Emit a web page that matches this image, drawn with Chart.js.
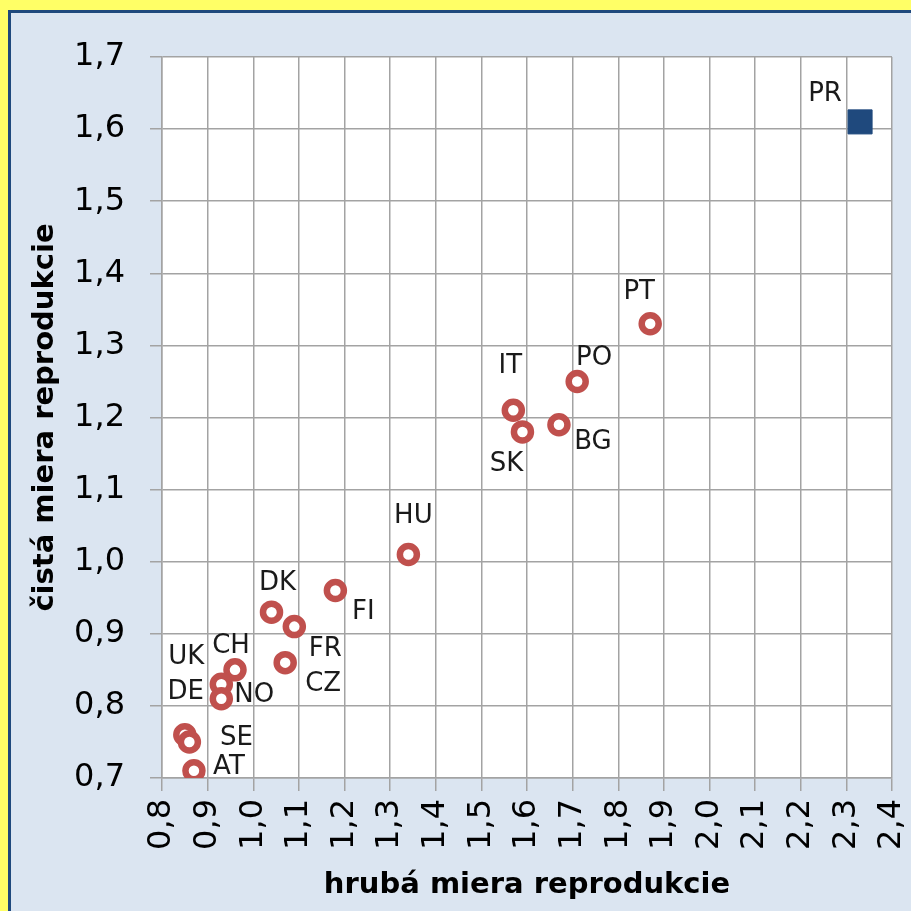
<!DOCTYPE html>
<html>
<head>
<meta charset="utf-8">
<script src="https://cdn.jsdelivr.net/npm/chart.js@4/dist/chart.umd.min.js"></script>
<style>
  html, body { margin: 0; padding: 0; background: #ffff66; width: 911px; height: 911px; overflow: hidden; }
  #frame {
    position: absolute; left: 8px; top: 10px; width: 903px; height: 901px;
    box-sizing: border-box; border-left: 3px solid #1f497d; border-top: 3px solid #1f497d;
    background: #dbe5f1;
  }
  #wrap { position: absolute; left: 0; top: 0; width: 900px; height: 898px; }
</style>
</head>
<body>
<div id="frame"><div id="wrap"><canvas id="c"></canvas></div></div>
<script>
// countries (circles) and the highlighted one (square)
var countryCodes = ['PT', 'PO', 'IT', 'SK', 'BG', 'HU', 'FI', 'DK', 'FR', 'CZ', 'CH', 'UK', 'NO', 'DE', 'SE', 'AT'];
var grossRates   = [1.87, 1.71, 1.57, 1.59, 1.67, 1.34, 1.18, 1.04, 1.09, 1.07, 0.96, 0.93, 0.93, 0.85, 0.86, 0.87];
var netRates     = [1.33, 1.25, 1.21, 1.18, 1.19, 1.01, 0.96, 0.93, 0.91, 0.86, 0.85, 0.83, 0.81, 0.76, 0.75, 0.71];

var highlightCode = ['PR'];
var highlightGross = [2.33];
var highlightNet = [1.61];

var xTickValues = [0.8, 0.9, 1.0, 1.1, 1.2, 1.3, 1.4, 1.5, 1.6, 1.7, 1.8, 1.9, 2.0, 2.1, 2.2, 2.3, 2.4];
var yTickValues = [0.7, 0.8, 0.9, 1.0, 1.1, 1.2, 1.3, 1.4, 1.5, 1.6, 1.7];

var xTitle = 'hrubá miera reprodukcie';
var yTitle = 'čistá miera reprodukcie';

// label offsets (px) from the marker, same order as the codes
var labelOffsets = [[-11, -32], [17, -23], [-3, -44], [-16, 32], [34, 18], [5, -38], [28, 22], [6, -29],
                    [31, 23], [38, 22], [-4, -24], [-35, -27], [33, -3], [1, -42], [47, -4], [35, -4]];
var highlightOffsets = [[-35, -28]];

function comma(v) { return Number(v).toFixed(1).replace('.', ','); }

var gridColor = '#a3a3a3';

var plotBg = {
  id: 'plotBg',
  beforeDraw: function(chart) {
    var a = chart.chartArea, ctx = chart.ctx;
    ctx.save();
    ctx.fillStyle = '#ffffff';
    ctx.fillRect(a.left, a.top, a.right - a.left, a.bottom - a.top);
    ctx.restore();
  }
};

var pointLabels = {
  id: 'pointLabels',
  afterDatasetsDraw: function(chart) {
    var ctx = chart.ctx;
    ctx.save();
    ctx.font = '26px "DejaVu Sans"';
    ctx.fillStyle = '#1a1a1a';
    ctx.textAlign = 'center';
    ctx.textBaseline = 'middle';
    chart.data.datasets.forEach(function(ds, di) {
      var meta = chart.getDatasetMeta(di);
      meta.data.forEach(function(pt, i) {
        var off = ds.labelOffsets[i];
        ctx.fillText(ds.codes[i], pt.x + off[0], pt.y + off[1]);
      });
    });
    ctx.restore();
  }
};

function toPoints(xs, ys) {
  return xs.map(function(x, i) { return { x: x, y: ys[i] }; });
}

new Chart(document.getElementById('c'), {
  type: 'scatter',
  data: {
    datasets: [{
      data: toPoints(grossRates, netRates),
      codes: countryCodes,
      labelOffsets: labelOffsets,
      pointStyle: 'circle',
      pointRadius: 8.5,
      pointBorderWidth: 6.5,
      borderColor: '#c0504d',
      backgroundColor: '#ffffff'
    }, {
      data: toPoints(highlightGross, highlightNet),
      codes: highlightCode,
      labelOffsets: highlightOffsets,
      pointStyle: 'rect',
      pointRadius: 17,
      pointBorderWidth: 1,
      borderColor: '#1f497d',
      backgroundColor: '#1f497d'
    }]
  },
  options: {
    responsive: true,
    maintainAspectRatio: false,
    animation: false,
    events: [],
    layout: { padding: { top: 44, right: 19, left: 0, bottom: 0 } },
    plugins: { legend: { display: false }, tooltip: { enabled: false } },
    scales: {
      x: {
        type: 'linear',
        min: 0.8, max: 2.4,
        afterBuildTicks: function(s) { s.ticks = xTickValues.map(function(v) { return { value: v }; }); },
        afterFit: function(s) { s.height = 133; s.paddingLeft = 0; s.paddingRight = 0; },
        grid: { color: gridColor, lineWidth: 1.5, tickLength: 13, tickColor: gridColor },
        border: { color: gridColor, width: 1.5 },
        ticks: {
          minRotation: 90, maxRotation: 90, padding: 8,
          color: '#000', font: { family: 'DejaVu Sans', size: 32 },
          callback: function(v) { return comma(v); }
        },
        title: {
          display: true, text: xTitle, color: '#000',
          font: { family: 'DejaVu Sans', size: 29, weight: 'bold' },
          padding: { top: 0, bottom: 8 }
        }
      },
      y: {
        type: 'linear',
        min: 0.7, max: 1.7,
        afterBuildTicks: function(s) { s.ticks = yTickValues.map(function(v) { return { value: v }; }); },
        afterFit: function(s) { s.width = 151; s.paddingTop = 0; s.paddingBottom = 0; },
        grid: { color: gridColor, lineWidth: 1.5, tickLength: 12, tickColor: gridColor },
        border: { color: gridColor, width: 1.5 },
        ticks: {
          padding: 25,
          color: '#000', font: { family: 'DejaVu Sans', size: 32 },
          callback: function(v) { return comma(v); }
        },
        title: {
          display: true, text: yTitle, color: '#000',
          font: { family: 'DejaVu Sans', size: 29, weight: 'bold' },
          padding: { top: 17, bottom: 0 }
        }
      }
    }
  },
  plugins: [plotBg, pointLabels]
});
</script>
</body>
</html>
